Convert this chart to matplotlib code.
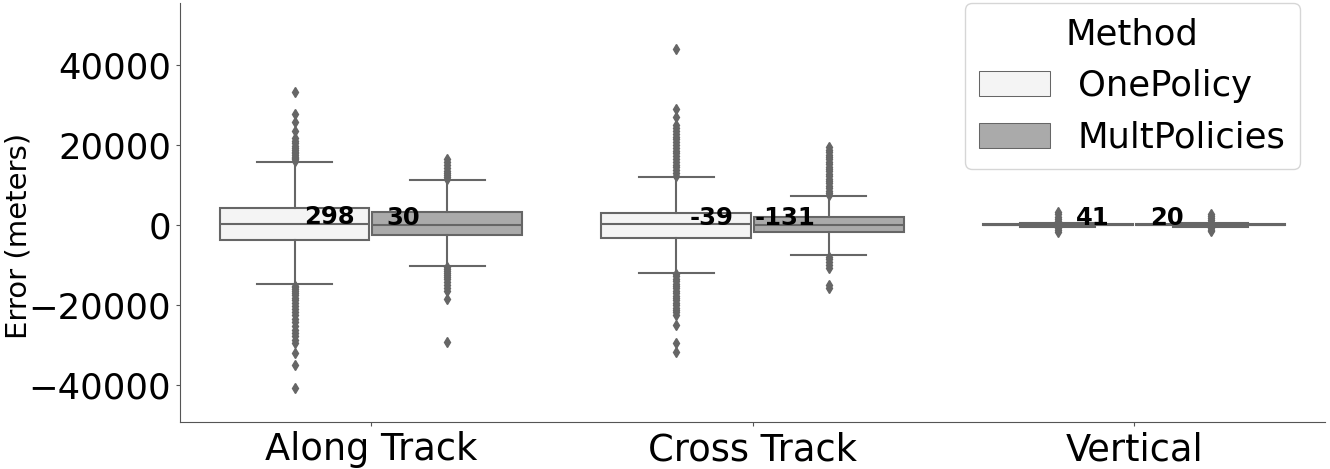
import matplotlib
matplotlib.use('Agg')
import matplotlib.pyplot as plt
from matplotlib.patches import Patch

# ---------------- data ----------------
categories = ['Along Track', 'Cross Track', 'Vertical']
methods = ['OnePolicy', 'MultPolicies']

# OnePolicy box statistics per category
one_med = [300, 150, 20]
one_q1 = [-3750, -3170, -100]
one_q3 = [4250, 2920, 100]
one_whislo = [-14900, -12000, -550]
one_whishi = [15800, 11900, 550]
one_mean = [298, -39, 41]
one_fliers = [
    [33300, 27700, 25800, 23500, 21700, 21000, 20400, 19800, 19300, 18800,
     18300, 17900, 17500, 17100, 16700, 16400, 16100,
     -15200, -15600, -16000, -16500, -17000, -17600, -18200, -18900, -19500,
     -20200, -21000, -21800, -22600, -23500, -24400, -25300, -26200, -27000,
     -27800, -28700, -29500, -32100, -35000, -40700],
    [43900, 28900, 26900, 25000, 24200, 23500, 22800, 22100, 21400, 20700,
     20000, 19300, 18600, 17900, 17200, 16500, 15800, 15100, 14400, 13700,
     13000, 12300,
     -12300, -12900, -13500, -14100, -14700, -15300, -15900, -16500, -17100,
     -17700, -18300, -18900, -19500, -20100, -20700, -21300, -21900, -22500,
     -25000, -29600, -31700],
    [900, 1400, 2000, 2600, 3200, -900, -1300, -1800],
]

# MultPolicies box statistics per category
mult_med = [50, -150, 10]
mult_q1 = [-2420, -1830, -100]
mult_q3 = [3170, 2000, 100]
mult_whislo = [-10330, -7580, -500]
mult_whishi = [11330, 7250, 500]
mult_mean = [30, -131, 20]
mult_fliers = [
    [11600, 12000, 12500, 13000, 13500, 14200, 15000, 15800, 16600,
     -10600, -11000, -11500, -12000, -12500, -13000, -13600, -14300, -15000,
     -15800, -16600, -18600, -29200],
    [7500, 8000, 8600, 9200, 9800, 10400, 11000, 11600, 12200, 12800, 13400,
     14000, 14600, 15200, 15800, 16400, 17000, 17600, 18200, 18800, 19600,
     -8000, -8600, -9300, -10000, -10800, -15000, -15800],
    [800, 1200, 1700, 2200, 2700, -800, -1200, -1600],
]

yticks = [-40000, -20000, 0, 20000, 40000]

# ---------------- style ----------------
colors = ['#f4f4f4', '#aaaaaa']
gray = '#666666'
plt.rcParams['font.family'] = ['DejaVu Sans']

fig = plt.figure(figsize=(13.3, 4.69), dpi=100)
ax = fig.add_axes([180 / 1330, 1 - 422 / 469, 1145 / 1330, 419 / 469])

groups = [
    (one_med, one_q1, one_q3, one_whislo, one_whishi, one_fliers, one_mean),
    (mult_med, mult_q1, mult_q3, mult_whislo, mult_whishi, mult_fliers, mult_mean),
]
offsets = [-0.2, 0.2]
text_offsets = [-0.108, 0.085]
box_w = 0.4 * 0.98

for gi, (med, q1, q3, wlo, whi, fl, mean) in enumerate(groups):
    stats = []
    for i in range(len(categories)):
        stats.append(dict(med=med[i], q1=q1[i], q3=q3[i], whislo=wlo[i],
                          whishi=whi[i], fliers=fl[i], label=categories[i]))
    pos = [i + offsets[gi] for i in range(len(categories))]
    ax.bxp(stats, positions=pos, widths=box_w, patch_artist=True,
           showfliers=True, manage_ticks=False,
           boxprops=dict(facecolor=colors[gi], edgecolor=gray, linewidth=1.5),
           medianprops=dict(color=gray, linewidth=1.5),
           whiskerprops=dict(color=gray, linewidth=1.5),
           capprops=dict(color=gray, linewidth=1.5),
           flierprops=dict(marker='d', markerfacecolor=gray,
                           markeredgecolor=gray, markersize=5, linestyle='none'))
    for i in range(len(categories)):
        ax.text(i + text_offsets[gi], mean[i], str(mean[i]), ha='center',
                fontsize=17.5, fontweight='bold', color='black')

ax.set_xlim(-0.5, 2.5)
ax.set_ylim(-49300, 55500)
ax.set_xticks(range(len(categories)))
ax.set_xticklabels(categories)
ax.set_yticks(yticks)
ax.tick_params(axis='both', length=3, width=0.8, color='#555555')
ax.tick_params(axis='x', labelsize=26.5)
ax.tick_params(axis='y', labelsize=25.5)
ax.set_ylabel('Error (meters)', fontsize=21)
ax.yaxis.set_label_coords(-0.129, 0.444)
for s in ['top', 'right']:
    ax.spines[s].set_visible(False)
for s in ['left', 'bottom']:
    ax.spines[s].set_color('#555555')

handles = [Patch(facecolor=colors[k], edgecolor=gray, linewidth=0.75, label=methods[k])
           for k in range(len(methods))]
leg = ax.legend(handles=handles, title='Method', fontsize=25.5, title_fontsize=25.5,
                loc='upper right', bbox_to_anchor=(1300 / 1330, 1 - 3 / 469),
                bbox_transform=fig.transFigure, borderaxespad=0)

fig.savefig('out.png', dpi=100)
